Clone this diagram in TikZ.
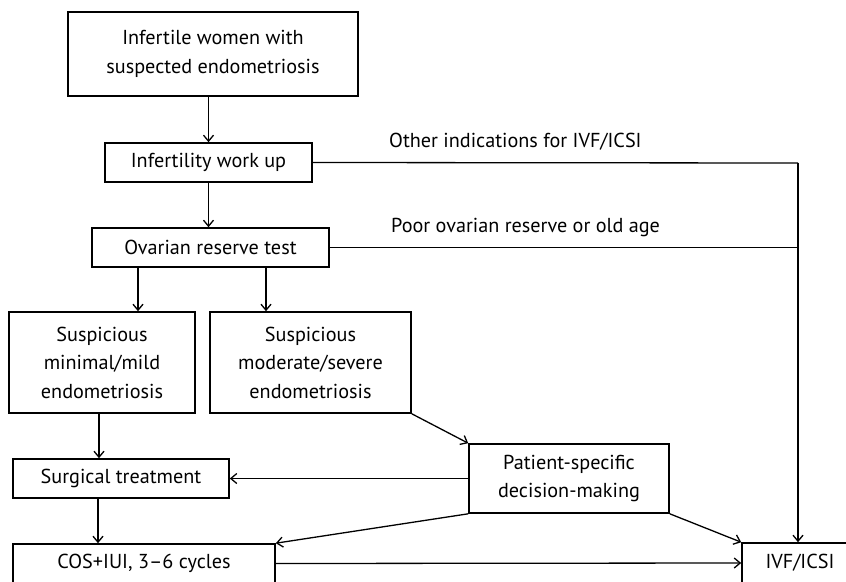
\documentclass[tikz,border=0pt]{standalone}
\usepackage{fontspec}
\setmainfont{PT Sans}
\usetikzlibrary{arrows.meta}
\begin{document}
\begin{tikzpicture}[x=1pt,y=-1pt,
  box/.style={draw,line width=1.6pt,inner sep=0pt,align=center,font=\fontsize{20.2}{28.5}\selectfont},
  arr/.style={line width=1.3pt,-{Straight Barb[length=6pt,width=10pt]}},
  ln/.style={line width=1.3pt},
  lbl/.style={anchor=west,inner sep=0pt,font=\fontsize{20.2}{28.5}\selectfont}]
\useasboundingbox (0,0) rectangle (846,581);
\node[box,minimum width=290pt,minimum height=84pt] (b1) at (213,54) {Infertile women with\\suspected endometriosis};
\node[box,minimum width=207pt,minimum height=39pt] (b2) at (208.5,162.5) {Infertility work up};
\node[box,minimum width=237pt,minimum height=39pt] (b3) at (210.5,247.5) {Ovarian reserve test};
\node[box,minimum width=186pt,minimum height=101pt] (b4) at (102,362.5) {Suspicious\\minimal/mild\\endometriosis};
\node[box,minimum width=201pt,minimum height=101pt] (b5) at (310.5,362.5) {Suspicious\\moderate/severe\\endometriosis};
\node[box,minimum width=216pt,minimum height=39pt] (b6) at (121,478.5) {Surgical treatment};
\node[box,minimum width=200pt,minimum height=69pt] (pt) at (569,478.5) {Patient-specific\\decision-making};
\node[box,minimum width=262pt,minimum height=39pt] (cos) at (144,563.5) {COS+IUI, 3--6 cycles};
\node[box,minimum width=116pt,minimum height=40pt] (ivf) at (800,563) {IVF/ICSI};
\node[lbl] (l1) at (389,142) {Other indications for IVF/ICSI};
\node[lbl] (l2) at (391,227) {Poor ovarian reserve or old age};
\coordinate (j1) at (798,163);
\coordinate (c1) at (138,0);
\coordinate (c2) at (266,0);
\coordinate (c3) at (99,0);
\coordinate (c4) at (98,0);
\draw[arr] (b1.south -| b2.north) -- (b2.north);
\draw[arr] (b2.south) -- (b3.north -| b2.south);
\draw[arr] (b3.south -| c1) -- (b4.north -| c1);
\draw[arr] (b3.south -| c2) -- (b5.north -| c2);
\draw[ln] (b2.east) -- (j1);
\draw[ln] (b3.east) -- (b3.east -| j1);
\draw[arr] (j1) -- (ivf.north -| j1);
\draw[arr] (b4.south -| c3) -- (b6.north -| c3);
\draw[arr] (b6.south -| c4) -- (cos.north -| c4);
\draw[arr] (b5.south east) -- (pt.north west);
\draw[arr] (pt.west) -- (b6.east);
\draw[arr] (pt.south west) -- (cos.north east);
\draw[arr] (pt.south east) -- (ivf.north west);
\draw[arr] (cos.east) -- (ivf.west);
\end{tikzpicture}
\end{document}
